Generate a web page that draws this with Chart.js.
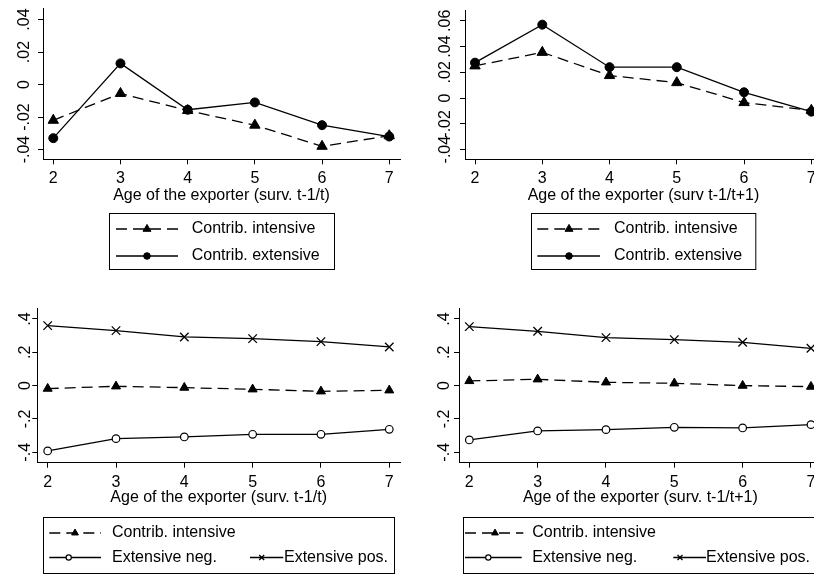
<!DOCTYPE html>
<html>
<head>
<meta charset="utf-8">
<script src="https://cdn.jsdelivr.net/npm/chart.js@4/dist/chart.umd.min.js"></script>
<style>
  html, body { margin: 0; padding: 0; background: #fff; }
  #wrap { position: relative; width: 814px; height: 575px; overflow: hidden; background: #fff; }
  canvas { position: absolute; }
</style>
</head>
<body>
<div id="wrap">
  <canvas id="c1" width="410" height="290" style="left:0px;top:0px;width:410px;height:290px"></canvas>
  <canvas id="c2" width="420" height="290" style="left:410px;top:0px;width:420px;height:290px"></canvas>
  <canvas id="c3" width="410" height="285" style="left:0px;top:290px;width:410px;height:285px"></canvas>
  <canvas id="c4" width="420" height="285" style="left:410px;top:290px;width:420px;height:285px"></canvas>
</div>
<script>
// ---------- data ----------
const ages = [2, 3, 4, 5, 6, 7];
const xTickLabels = ['2', '3', '4', '5', '6', '7'];

const yTicksP1 = [-0.04, -0.02, 0, 0.02, 0.04];
const yLabelsP1 = ['-.04', '-.02', '0', '.02', '.04'];
const yTicksP2 = [-0.04, -0.02, 0, 0.02, 0.04, 0.06];
const yLabelsP2 = ['-.04', '-.02', '0', '.02', '.04', '.06'];
const yTicksBottom = [-0.4, -0.2, 0, 0.2, 0.4];
const yLabelsBottom = ['-.4', '-.2', '0', '.2', '.4'];

const seriesTop = ['Contrib. intensive', 'Contrib. extensive'];
const seriesBottom = ['Contrib. intensive', 'Extensive neg.', 'Extensive pos.'];

const xTitles = [
  'Age of the exporter (surv. t-1/t)',
  'Age of the exporter (surv t-1/t+1)',
  'Age of the exporter (surv. t-1/t)',
  'Age of the exporter (surv. t-1/t+1)'
];

const p1Intensive = [-0.022, -0.0055, -0.016, -0.025, -0.038, -0.0315];
const p1Extensive = [-0.033, 0.013, -0.0155, -0.011, -0.025, -0.032];

const p2Intensive = [0.025, 0.0355, 0.0175, 0.012, -0.0035, -0.0095];
const p2Extensive = [0.0275, 0.057, 0.024, 0.024, 0.0045, -0.0105];

const p3Intensive = [-0.018, -0.004, -0.012, -0.022, -0.034, -0.028];
const p3ExtNeg = [-0.392, -0.318, -0.308, -0.292, -0.292, -0.262];
const p3ExtPos = [0.36, 0.33, 0.292, 0.282, 0.264, 0.232];

const p4Intensive = [0.028, 0.038, 0.02, 0.014, 0.0, -0.006];
const p4ExtNeg = [-0.326, -0.272, -0.264, -0.25, -0.254, -0.234];
const p4ExtPos = [0.354, 0.326, 0.288, 0.276, 0.26, 0.224];

// ---------- helpers ----------
const FONT = '"Liberation Sans", Arial, Helvetica, sans-serif';
Chart.defaults.font.family = FONT;
Chart.defaults.font.size = 16;
Chart.defaults.color = '#000';

const pts = vals => ages.map((a, i) => ({ x: a, y: vals[i] }));

function styleIntensive(label, vals, r) {
  return { label, data: pts(vals), borderColor: '#000', borderWidth: 1.3, borderDash: [11, 6],
    pointStyle: 'triangle', pointRadius: r, pointBackgroundColor: '#000', pointBorderColor: '#000', pointBorderWidth: 1 };
}
function styleExtensive(label, vals) {
  return { label, data: pts(vals), borderColor: '#000', borderWidth: 1.3, borderDash: [],
    pointStyle: 'circle', pointRadius: 4.5, pointBackgroundColor: '#000', pointBorderColor: '#000', pointBorderWidth: 1 };
}
function styleNeg(label, vals) {
  return { label, data: pts(vals), borderColor: '#000', borderWidth: 1.3, borderDash: [],
    pointStyle: 'circle', pointRadius: 3.8, pointBackgroundColor: '#fff', pointBorderColor: '#000', pointBorderWidth: 1.2 };
}
function stylePos(label, vals) {
  return { label, data: pts(vals), borderColor: '#000', borderWidth: 1.3, borderDash: [],
    pointStyle: 'crossRot', pointRadius: 6, pointBackgroundColor: '#000', pointBorderColor: '#000', pointBorderWidth: 1.3 };
}

const stataLegend = {
  id: 'stataLegend',
  afterDraw(chart, args, opts) {
    if (!opts || !opts.box) return;
    const ctx = chart.ctx;
    ctx.save();
    ctx.strokeStyle = '#000';
    ctx.lineWidth = 1;
    ctx.setLineDash([]);
    ctx.strokeRect(Math.round(opts.box.x) + 0.5, Math.round(opts.box.y) + 0.5, opts.box.w, opts.box.h);
    opts.items.forEach(it => {
      const ds = chart.data.datasets[it.ds];
      ctx.save();
      ctx.setLineDash(ds.borderDash || []);
      ctx.lineWidth = ds.borderWidth;
      ctx.strokeStyle = ds.borderColor;
      ctx.beginPath();
      ctx.moveTo(it.k0, it.y);
      ctx.lineTo(it.k1, it.y);
      ctx.stroke();
      ctx.restore();
      ctx.save();
      ctx.setLineDash([]);
      ctx.fillStyle = ds.pointBackgroundColor;
      ctx.strokeStyle = ds.pointBorderColor;
      ctx.lineWidth = ds.pointBorderWidth;
      Chart.helpers.drawPoint(ctx, { pointStyle: ds.pointStyle, radius: it.r, borderWidth: ds.pointBorderWidth, rotation: 0 }, it.m, it.y);
      ctx.restore();
      ctx.fillStyle = '#000';
      ctx.font = '16px ' + FONT;
      ctx.textAlign = 'left';
      ctx.textBaseline = 'middle';
      ctx.fillText(ds.label, it.t, it.y);
    });
    ctx.restore();
  }
};

function makePanel(id, p) {
  return new Chart(document.getElementById(id), {
    type: 'line',
    data: { datasets: p.datasets },
    plugins: [stataLegend],
    options: {
      responsive: false,
      animation: false,
      devicePixelRatio: 1,
      events: [],
      layout: { padding: p.padding },
      plugins: {
        legend: { display: false },
        tooltip: { enabled: false },
        stataLegend: p.legend
      },
      scales: {
        x: {
          type: 'linear', min: p.xMin, max: p.xMax,
          afterBuildTicks: s => { s.ticks = ages.map(v => ({ value: v })); },
          afterFit: s => { s.height = p.xHeight; },
          ticks: { autoSkip: false, padding: 5, maxRotation: 0, minRotation: 0, color: '#000',
                   font: { size: 16 }, callback: (v, i) => xTickLabels[i] },
          grid: { drawOnChartArea: false, drawTicks: true, tickLength: 5, color: '#000', tickColor: '#000', lineWidth: 1 },
          border: { display: true, color: '#000', width: 1 },
          title: { display: true, text: p.xTitle, color: '#000', font: { size: 16 }, padding: { top: 0, bottom: 0 } }
        },
        y: {
          type: 'linear', min: p.yMin, max: p.yMax,
          afterBuildTicks: s => { s.ticks = p.yTicks.map(v => ({ value: v })); },
          afterFit: s => { s.width = p.yWidth; },
          ticks: { autoSkip: false, minRotation: 90, maxRotation: 90, crossAlign: 'center', padding: p.yPad,
                   color: '#000', font: { size: 16 }, callback: (v, i) => p.yLabels[i] },
          grid: { drawOnChartArea: false, drawTicks: true, tickLength: 5, color: '#000', tickColor: '#000', lineWidth: 1 },
          border: { display: true, color: '#000', width: 1 }
        }
      }
    }
  });
}

// ---------- panels ----------
makePanel('c1', {
  datasets: [styleIntensive(seriesTop[0], p1Intensive, 6), styleExtensive(seriesTop[1], p1Extensive)],
  padding: { top: 5, right: 10, bottom: 84.7, left: 0 },
  xMin: 1.847, xMax: 7.16, yMin: -0.046, yMax: 0.0466,
  yTicks: yTicksP1, yLabels: yLabelsP1, yWidth: 43, xHeight: 46, yPad: -0.8,
  xTitle: xTitles[0],
  legend: { box: { x: 109, y: 213, w: 225, h: 56 }, items: [
    { ds: 0, y: 229, k0: 116, k1: 178, m: 147, t: 191.7, r: 4.6 },
    { ds: 1, y: 256, k0: 116, k1: 178, m: 147, t: 191.7, r: 3.3 } ] }
});

makePanel('c2', {
  datasets: [styleIntensive(seriesTop[0], p2Intensive, 6), styleExtensive(seriesTop[1], p2Extensive)],
  padding: { top: 5, right: 8, bottom: 84.7, left: 0 },
  xMin: 1.851, xMax: 7.159, yMin: -0.0475, yMax: 0.0683,
  yTicks: yTicksP2, yLabels: yLabelsP2, yWidth: 55, xHeight: 46, yPad: 0.5,
  xTitle: xTitles[1],
  legend: { box: { x: 120.7, y: 213, w: 224.3, h: 56 }, items: [
    { ds: 0, y: 229, k0: 127.3, k1: 190, m: 159, t: 204, r: 4.6 },
    { ds: 1, y: 256, k0: 127.3, k1: 190, m: 159, t: 204, r: 3.3 } ] }
});

makePanel('c3', {
  datasets: [styleIntensive(seriesBottom[0], p3Intensive, 5.2), styleNeg(seriesBottom[1], p3ExtNeg), stylePos(seriesBottom[2], p3ExtPos)],
  padding: { top: 18.3, right: 10, bottom: 68.3, left: 0 },
  xMin: 1.848, xMax: 7.157, yMin: -0.4624, yMax: 0.464,
  yTicks: yTicksBottom, yLabels: yLabelsBottom, yWidth: 37.3, xHeight: 44, yPad: -2.8,
  xTitle: xTitles[2],
  legend: { box: { x: 43, y: 227, w: 351, h: 56 }, items: [
    { ds: 0, y: 243, k0: 49.3, k1: 101, m: 75, t: 112, r: 3.9 },
    { ds: 1, y: 267.5, k0: 49.3, k1: 101, m: 68.7, t: 112, r: 2.6 },
    { ds: 2, y: 267.5, k0: 250, k1: 283.3, m: 261.7, t: 284, r: 3.5 } ] }
});

makePanel('c4', {
  datasets: [styleIntensive(seriesBottom[0], p4Intensive, 5.2), styleNeg(seriesBottom[1], p4ExtNeg), stylePos(seriesBottom[2], p4ExtPos)],
  padding: { top: 18.3, right: 8.3, bottom: 68.3, left: 0 },
  xMin: 1.849, xMax: 7.157, yMin: -0.4624, yMax: 0.464,
  yTicks: yTicksBottom, yLabels: yLabelsBottom, yWidth: 49, xHeight: 44, yPad: -0.1,
  xTitle: xTitles[3],
  legend: { box: { x: 53, y: 227, w: 351, h: 56 }, items: [
    { ds: 0, y: 243, k0: 55, k1: 113.3, m: 85, t: 122.3, r: 3.9 },
    { ds: 1, y: 267.5, k0: 55, k1: 111.7, m: 78.3, t: 122.3, r: 2.6 },
    { ds: 2, y: 267.5, k0: 263.3, k1: 296, m: 270, t: 296, r: 3.5 } ] }
});
</script>
</body>
</html>
